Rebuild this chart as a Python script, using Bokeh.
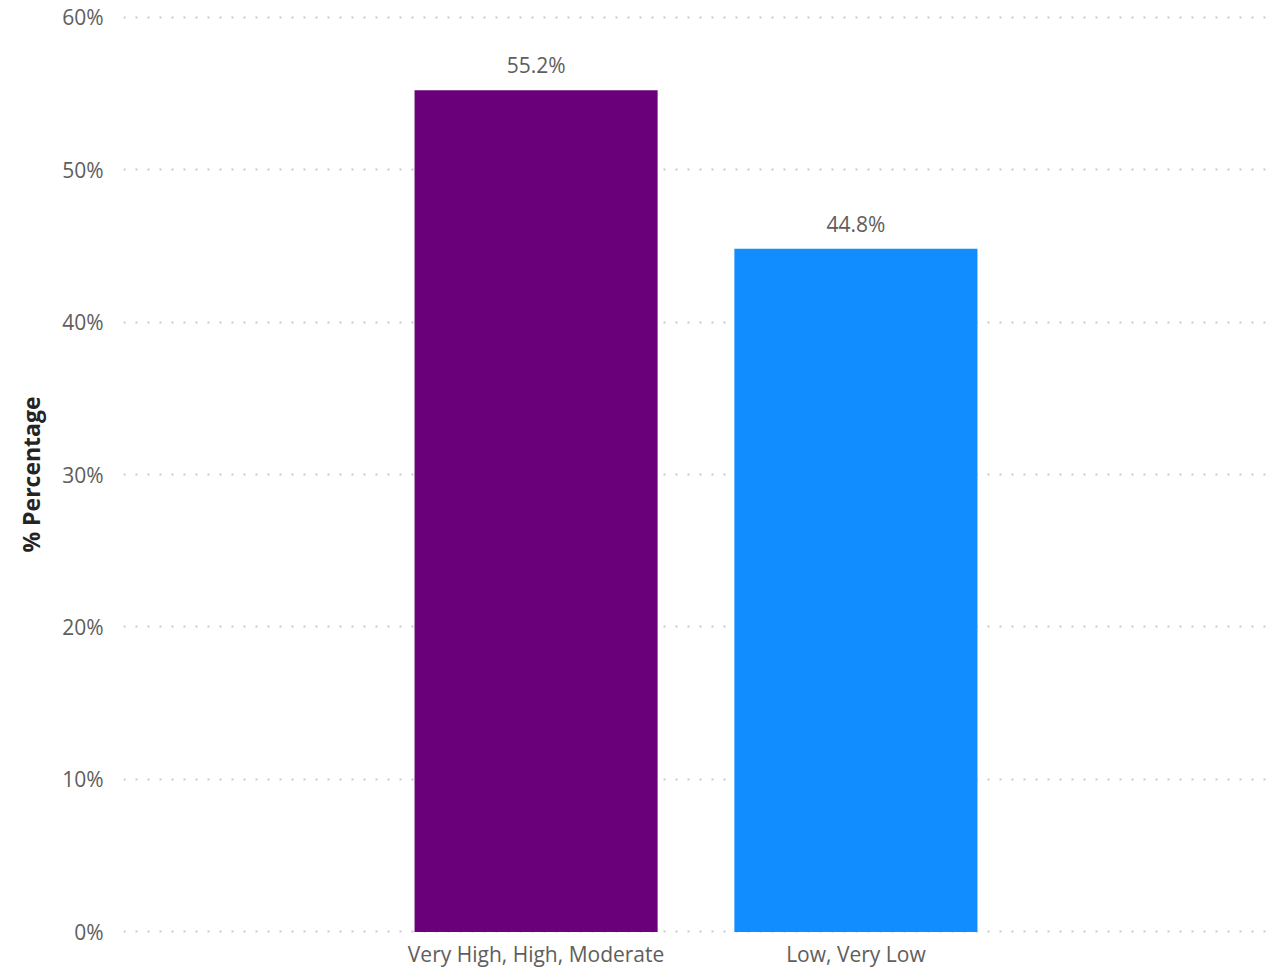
from bokeh.plotting import figure
from bokeh.models import FactorRange, Range1d, FixedTicker, PrintfTickFormatter, ColumnDataSource
from bokeh.core.properties import value
from bokeh.embed import file_html
from bokeh.resources import INLINE

categories = ["Very High, High, Moderate", "Low, Very Low"]
percentages = [55.2, 44.8]
bar_colors = ["#6B007B", "#118DFF"]
y_ticks = [0, 10, 20, 30, 40, 50, 60]

labels = [f"{v:.1f}%" for v in percentages]
src = ColumnDataSource(dict(cat=categories, val=percentages, color=bar_colors, label=labels))

FONT = "Open Sans"
TXT = "#605E5C"

p = figure(width=1281, height=970, output_backend="svg", toolbar_location=None,
           x_range=FactorRange(*categories, range_padding=0.79),
           y_range=Range1d(-0.1, 60.1),
           min_border_left=123, min_border_right=13, min_border_top=15, min_border_bottom=37)
p.outline_line_color = None
p.background_fill_color = "white"
p.border_fill_color = "white"

p.vbar(x="cat", top="val", width=0.76, color="color", source=src, line_color=None)
p.text(x="cat", y="val", text="label", source=src, y_offset=-11,
       text_align="center", text_baseline="bottom",
       text_font=value(FONT), text_font_size="21px", text_color=TXT)

p.xgrid.grid_line_color = None
p.ygrid.grid_line_color = "#C8C8C8"
p.ygrid.grid_line_dash = "2 10"
p.ygrid.grid_line_width = 2

p.yaxis.ticker = FixedTicker(ticks=y_ticks)
p.yaxis.formatter = PrintfTickFormatter(format="%d%%")
for ax in (p.xaxis[0], p.yaxis[0]):
    ax.axis_line_color = None
    ax.major_tick_line_color = None
    ax.minor_tick_line_color = None
    ax.major_tick_out = 0
    ax.major_tick_in = 0
    ax.minor_tick_out = 0
    ax.minor_tick_in = 0
    ax.major_label_text_font = FONT
    ax.major_label_text_font_size = "21px"
    ax.major_label_text_color = TXT

p.yaxis.major_label_standoff = 20
p.xaxis.major_label_standoff = 6
p.yaxis.axis_label = "% Percentage"
p.yaxis.axis_label_text_font = FONT
p.yaxis.axis_label_text_font_size = "23px"
p.yaxis.axis_label_text_font_style = "bold"
p.yaxis.axis_label_text_color = "#252423"
p.yaxis.axis_label_standoff = 12

open("out.html", "w").write(file_html(p, INLINE))
